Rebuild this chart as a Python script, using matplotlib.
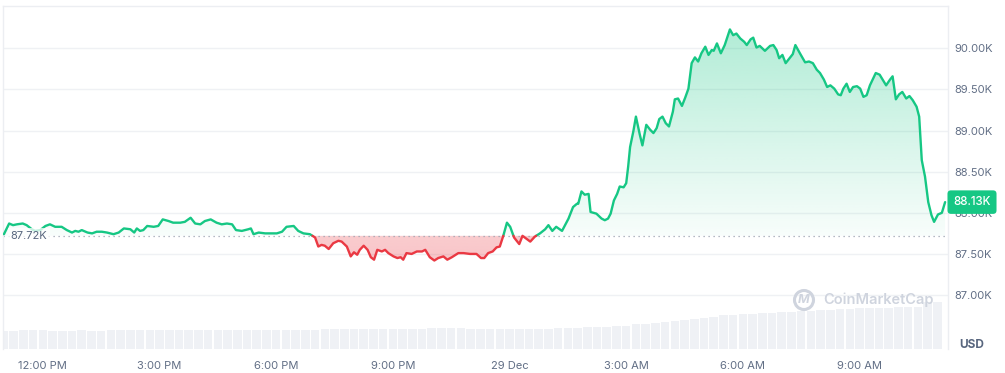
import numpy as np
import matplotlib
matplotlib.use("Agg")
import matplotlib.pyplot as plt
from matplotlib.patches import Polygon, Circle

plt.rcParams['font.family'] = ['Inter', 'DejaVu Sans']

# ---- data: minutes since 12:00 PM (28 Dec) and BTC price in thousands USD ----
minutes = [-60, -52, -46, -40, -31, -25, -17, -12, -4, 4, 11, 19, 29, 37, 45, 50, 55, 60, 69, 76,
           83, 91, 99, 109, 117, 125, 135, 141, 145, 150, 155, 161, 171, 178, 185, 194, 201, 212, 219, 228,
           235, 243, 250, 259, 268, 276, 284, 292, 298, 307, 317, 321, 325, 333, 343, 351, 361, 369, 376, 387,
           394, 402, 412, 420, 425, 430, 435, 441, 448, 456, 461, 469, 475, 480, 485, 489, 495, 501, 506, 511,
           516, 523, 528, 533, 541, 547, 552, 556, 561, 569, 577, 585, 590, 597, 604, 610, 618, 624, 631, 641,
           649, 659, 669, 676, 681, 687, 694, 700, 705, 710, 716, 721, 727, 735, 740, 747, 752, 759, 767, 775,
           780, 786, 792, 801, 811, 818, 824, 826, 831, 836, 842, 845, 854, 862, 867, 872, 876, 881, 886, 890,
           896, 900, 903, 906, 911, 915, 921, 925, 931, 937, 942, 947, 951, 956, 961, 966, 972, 975, 980, 986,
           991, 996, 1001, 1006, 1011, 1016, 1022, 1027, 1032, 1035, 1040, 1046, 1052, 1060, 1065, 1070, 1076, 1082, 1086, 1092,
           1096, 1101, 1106, 1114, 1122, 1127, 1132, 1136, 1141, 1146, 1153, 1157, 1161, 1168, 1176, 1182, 1188, 1194, 1199, 1205,
           1210, 1215, 1221, 1227, 1231, 1235, 1240, 1245, 1250, 1256, 1261, 1266, 1271, 1276, 1285, 1291, 1301, 1307, 1311, 1316,
           1321, 1326, 1332, 1337, 1342, 1348, 1352, 1356, 1361, 1366, 1371, 1375, 1381, 1387, 1392]
price_k = [87.74, 87.87, 87.85, 87.86, 87.87, 87.85, 87.80, 87.78, 87.79, 87.84, 87.86, 87.83, 87.83, 87.79, 87.76, 87.78, 87.77, 87.79, 87.76, 87.75,
           87.77, 87.77, 87.76, 87.74, 87.76, 87.81, 87.80, 87.76, 87.81, 87.78, 87.79, 87.84, 87.83, 87.84, 87.92, 87.90, 87.88, 87.88, 87.89, 87.94,
           87.87, 87.86, 87.90, 87.92, 87.88, 87.86, 87.87, 87.86, 87.79, 87.78, 87.80, 87.81, 87.74, 87.76, 87.75, 87.75, 87.75, 87.77, 87.83, 87.84,
           87.78, 87.75, 87.74, 87.70, 87.59, 87.61, 87.60, 87.56, 87.63, 87.66, 87.65, 87.59, 87.47, 87.52, 87.49, 87.55, 87.60, 87.55, 87.46, 87.43,
           87.55, 87.53, 87.55, 87.51, 87.47, 87.45, 87.46, 87.43, 87.51, 87.50, 87.53, 87.53, 87.55, 87.46, 87.42, 87.45, 87.47, 87.43, 87.46, 87.51,
           87.51, 87.50, 87.50, 87.45, 87.45, 87.51, 87.53, 87.58, 87.59, 87.71, 87.88, 87.83, 87.70, 87.62, 87.72, 87.68, 87.65, 87.71, 87.75, 87.80,
           87.85, 87.78, 87.83, 87.78, 87.93, 88.07, 88.11, 88.11, 88.26, 88.22, 88.23, 88.01, 87.99, 87.93, 87.91, 87.93, 87.99, 88.15, 88.23, 88.32,
           88.31, 88.36, 88.56, 88.80, 88.99, 89.17, 88.95, 88.82, 89.07, 89.01, 88.97, 89.03, 89.14, 89.17, 89.09, 89.05, 89.23, 89.38, 89.39, 89.30,
           89.40, 89.51, 89.82, 89.89, 89.84, 89.94, 90.02, 89.92, 89.98, 89.97, 90.06, 89.94, 90.04, 90.23, 90.16, 90.18, 90.12, 90.08, 90.04, 90.11,
           90.13, 90.01, 90.03, 89.97, 90.03, 90.04, 89.98, 89.88, 89.92, 89.82, 89.89, 89.93, 90.04, 89.94, 89.83, 89.84, 89.82, 89.74, 89.70, 89.62,
           89.53, 89.55, 89.51, 89.44, 89.43, 89.51, 89.57, 89.47, 89.53, 89.54, 89.51, 89.41, 89.43, 89.55, 89.70, 89.68, 89.55, 89.62, 89.66, 89.38,
           89.44, 89.47, 89.39, 89.42, 89.37, 89.29, 89.17, 88.64, 88.44, 88.13, 87.97, 87.89, 87.98, 88.00, 88.13]

open_price_k = 87.72
last_price_label = "88.13K"

# volume bars every 15 minutes (relative units)
vol_minutes = list(range(-60, 1395, 15))
volume = [17.5, 17.5, 18.5, 18.8, 18.5, 17.8, 17.8, 17.8, 18.6, 17.8, 17.8, 18.8, 19, 19, 19, 19, 19, 19, 19, 18.2,
          19, 19, 19, 19, 19, 19, 19, 19, 19, 19, 19, 19, 19, 19.5, 20, 20, 20, 20, 20, 20,
          20, 20, 20, 20, 20.5, 20.5, 20.5, 20.5, 20, 19.8, 19.5, 19.5, 19.5, 20, 20, 20, 20, 20.5, 21, 21,
          21.3, 21.5, 22, 22.3, 22.5, 24.5, 25, 26, 27, 28, 29, 30, 31, 32, 33.5, 34, 34.5, 35, 35.5, 36,
          36.5, 37, 37.5, 38, 38.5, 39, 39.5, 40, 40.2, 40.5, 40.8, 41, 41.2, 41.5, 41.5, 47, 47]

tick_minutes = [0, 180, 360, 540, 720, 900, 1080, 1260]
tick_labels = ["12:00 PM", "3:00 PM", "6:00 PM", "9:00 PM", "29 Dec", "3:00 AM", "6:00 AM", "9:00 AM"]
price_ticks = [87.0, 87.5, 88.0, 88.5, 89.0, 89.5, 90.0]

GREEN = "#16c784"
RED = "#ea3943"
TXT = "#616e85"
GRID = "#eff1f4"

W, H = 1005, 373
fig = plt.figure(figsize=(W / 100, H / 100), dpi=100)
ax_l, ax_r, ax_t, ax_b = 3.3, 947.7, 6.0, 348.5
ax = fig.add_axes([ax_l / W, (H - ax_b) / H, (ax_r - ax_l) / W, (ax_b - ax_t) / H])
XMIN, XMAX = -61, 1396
YMIN, YMAX = 86.35, 90.515

# volume on twin axis (hidden)
axv = ax.twinx()
axv.set_zorder(0)
ax.set_zorder(1)
ax.patch.set_visible(False)
axv.bar(vol_minutes, volume, width=15 * 0.88, align='center', color="#eff1f5", linewidth=0)
axv.set_ylim(0, ax_b - ax_t)
axv.axis('off')

x = np.array(minutes, dtype=float)
y = np.array(price_k, dtype=float)
base = open_price_k

# insert baseline crossings so the colours split exactly
xs, ys = [x[0]], [y[0]]
for i in range(1, len(x)):
    y0, y1 = y[i - 1], y[i]
    if (y0 - base) * (y1 - base) < 0:
        t = (base - y0) / (y1 - y0)
        xs.append(x[i - 1] + t * (x[i] - x[i - 1]))
        ys.append(base)
    xs.append(x[i])
    ys.append(y[i])
xs = np.array(xs)
ys = np.array(ys)

# gridlines
for pt in price_ticks:
    ax.axhline(pt, color=GRID, lw=1.0, zorder=0.5)

# gradient fills
def grad_fill(top_vals, color, a_top, a_bot, y_top, y_bot):
    verts = list(zip(xs, top_vals)) + [(xs[-1], base), (xs[0], base)]
    poly = Polygon(verts, closed=True, facecolor='none', edgecolor='none')
    ax.add_patch(poly)
    rgb = matplotlib.colors.to_rgb(color)
    n = 256
    alphas = np.linspace(a_top, a_bot, n)[:, None]
    img = np.zeros((n, 2, 4))
    img[..., 0] = rgb[0]
    img[..., 1] = rgb[1]
    img[..., 2] = rgb[2]
    img[..., 3] = alphas
    im = ax.imshow(img, extent=[XMIN, XMAX, y_bot, y_top], aspect='auto', origin='upper', zorder=1,
                   interpolation='bilinear')
    im.set_clip_path(poly)

grad_fill(np.maximum(ys, base), GREEN, 0.34, 0.03, 90.3, base)
grad_fill(np.minimum(ys, base), RED, 0.26, 0.30, base, 87.35)

# baseline
ax.plot([XMIN, XMAX], [base, base], color="#9aa2b1", lw=0.9, ls=(0, (1, 3)), zorder=2)

# price line
g = np.where(ys >= base, ys, np.nan)
r = np.where(ys <= base, ys, np.nan)
ax.plot(xs, g, color=GREEN, lw=1.7, zorder=3, solid_capstyle='round', solid_joinstyle='round')
ax.plot(xs, r, color=RED, lw=1.7, zorder=3, solid_capstyle='round', solid_joinstyle='round')

# open-price label
ax.text(XMIN + 7 * 1.5424, base, f"{base:.2f}K", fontsize=8, color="#58667e", va='center', ha='left', zorder=4,
        bbox=dict(boxstyle='square,pad=0.25', facecolor='white', edgecolor='none', alpha=0.75))

ax.set_xlim(XMIN, XMAX)
ax.set_ylim(YMIN, YMAX)

# frame
for side in ['left', 'top', 'right']:
    ax.spines[side].set_color("#eceef2")
    ax.spines[side].set_linewidth(1.0)
ax.spines['bottom'].set_visible(False)

ax.set_xticks(tick_minutes)
ax.set_xticklabels(tick_labels)
ax.tick_params(axis='x', length=0, pad=9, labelsize=8, labelcolor=TXT)
ax.yaxis.tick_right()
ax.set_yticks(price_ticks)
ax.set_yticklabels([f"{v:.2f}K" for v in price_ticks])
ax.tick_params(axis='y', length=0, pad=5, labelsize=8, labelcolor=TXT)

# last price badge
last = price_k[-1]
ax.annotate(last_price_label, xy=(1.0, last), xycoords=('axes fraction', 'data'),
            xytext=(4.0, 0), textcoords='offset points', va='center', ha='left',
            fontsize=8.3, color='white', fontweight='medium', zorder=6,
            bbox=dict(boxstyle='round,pad=0.5,rounding_size=0.3', facecolor=GREEN, edgecolor='none'),
            annotation_clip=False)

# USD label
fig.text(972 / W, 1 - 345 / H, "USD", fontsize=8.5, color="#58667e", fontweight='bold', ha='center', va='center')

# watermark
wm_color = "#cfd4de"
cx, cy = 804 / W, 1 - 300 / H
fig.patches.append(Circle((804, H - 300), 9.5, transform=None, fill=False, edgecolor=wm_color, lw=2.2,
                          figure=fig))
fig.text(cx, cy, "M", fontsize=9, color=wm_color, fontweight='bold', ha='center', va='center', style='italic')
fig.text(823 / W, cy, "CoinMarketCap", fontsize=10.5, color=wm_color, fontweight='semibold', ha='left', va='center')

fig.savefig("out.png", dpi=100)
